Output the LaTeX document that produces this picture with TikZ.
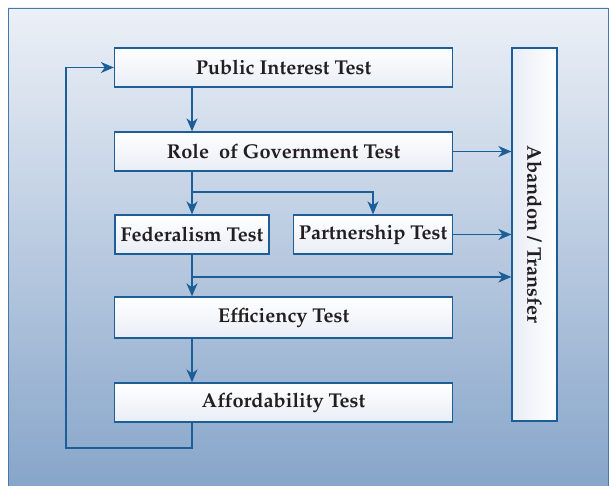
\documentclass[tikz,border=0pt]{standalone}
\usepackage[T1]{fontenc}
\usepackage{mathpazo}
\usetikzlibrary{arrows.meta,calc}
\definecolor{lineblue}{RGB}{27,94,152}
\definecolor{bgtop}{RGB}{236,240,247}
\definecolor{bgbot}{RGB}{132,163,200}
\definecolor{bgborder}{RGB}{70,120,175}
\definecolor{boxbot}{RGB}{233,237,245}
\definecolor{txt}{RGB}{35,31,32}
\tikzset{
  testbox/.style={draw=lineblue, line width=1.3pt, top color=white, bottom color=boxbot,
    minimum height=39pt, inner sep=0pt, font=\fontsize{20}{24}\selectfont\bfseries, text=txt},
  conn/.style={draw=lineblue, line width=1.6pt},
  arr/.style={conn, -{Stealth[length=13pt,width=11pt,inset=4pt]}}
}
\begin{document}
\begin{tikzpicture}[x=1pt,y=-1pt]
\useasboundingbox (0,0) rectangle (609,486);
\clip (0,0) rectangle (609,486);
\shade[top color=bgtop, bottom color=bgbot] (8,8) rectangle (608,500);
\draw[bgborder, line width=0.8pt] (8,500) -- (8,8) -- (608,8) -- (608,500);
\node[testbox, minimum width=338pt] (pub) at (283.5,67.5) {Public Interest Test};
\node[testbox, minimum width=338pt] (role) at (283.5,151.5) {Role~ of Government Test};
\node[testbox, minimum width=154pt] (fed) at (192,234.5) {Federalism Test};
\node[testbox, minimum width=159pt] (part) at (373,234.5) {Partnership Test};
\node[testbox, minimum width=338pt, minimum height=41pt] (eff) at (283.5,317.5) {Efficiency Test};
\node[testbox, minimum width=338pt] (aff) at (283.5,402.5) {Affordability Test};
\node[testbox, minimum width=45pt, minimum height=373pt, left color=boxbot, right color=white] (ab) at (534.5,234.5) {};
\node[rotate=-90, font=\fontsize{20}{24}\selectfont\bfseries, text=txt] (abt) at (ab.center) {Abandon~/~Transfer};
\coordinate (br1) at (192,192);
\coordinate (br2) at (192,277);
\coordinate (lp) at (66,448);
\draw[arr] (pub.south -| fed) -- (role.north -| fed);
\draw[arr] (role.east) -- (role.east -| ab.west);
\draw[arr] (role.south -| fed) -- (fed.north);
\draw[arr] (br1) -| (part.north);
\draw[arr] (part.east) -- (part.east -| ab.west);
\draw[arr] (fed.south) -- (eff.north -| fed);
\draw[arr] (br2) -- (br2 -| ab.west);
\draw[arr] (eff.south -| fed) -- (aff.north -| fed);
\draw[arr] (aff.south -| fed) |- (lp) |- (pub.west);
\end{tikzpicture}
\end{document}
